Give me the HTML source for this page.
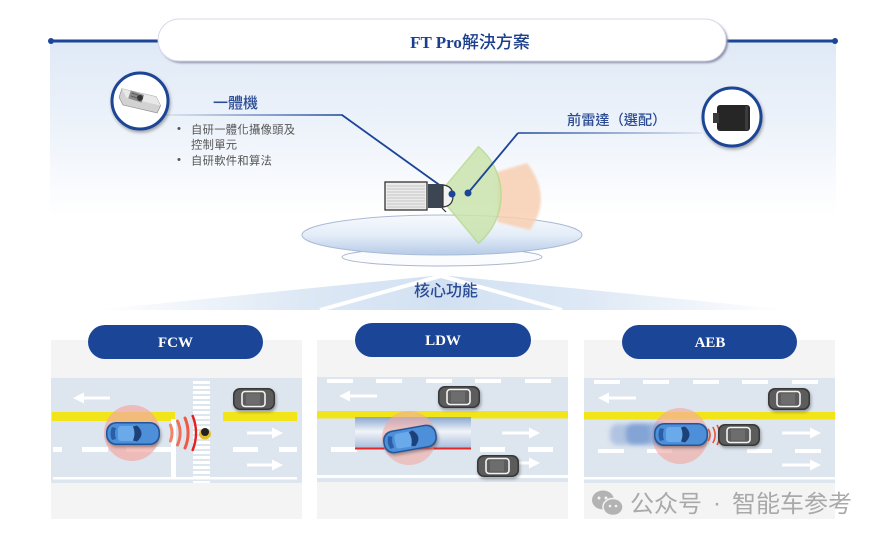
<!DOCTYPE html>
<html><head><meta charset="utf-8">
<style>
html,body{margin:0;padding:0;background:#fff;}
svg{display:block;}
</style></head><body>
<svg width="882" height="538" viewBox="0 0 882 538" xmlns="http://www.w3.org/2000/svg">
<defs>
 <linearGradient id="topbg" x1="0" y1="0" x2="0" y2="1">
  <stop offset="0" stop-color="#dfe9f6"/>
  <stop offset="0.55" stop-color="#eff4fb"/>
  <stop offset="1" stop-color="#ffffff"/>
 </linearGradient>
 <linearGradient id="plat" x1="0" y1="0" x2="0" y2="1">
  <stop offset="0" stop-color="#f7fafd"/>
  <stop offset="0.5" stop-color="#e4edf8"/>
  <stop offset="1" stop-color="#b6cbe7"/>
 </linearGradient>
 <linearGradient id="roof" x1="95" y1="0" x2="790" y2="0" gradientUnits="userSpaceOnUse">
  <stop offset="0" stop-color="#ffffff"/>
  <stop offset="0.3" stop-color="#dde8f5"/>
  <stop offset="0.5" stop-color="#d2e1f2"/>
  <stop offset="0.7" stop-color="#dde8f5"/>
  <stop offset="1" stop-color="#ffffff"/>
 </linearGradient>
 <linearGradient id="lineL" x1="165" y1="0" x2="343" y2="0" gradientUnits="userSpaceOnUse">
  <stop offset="0" stop-color="#1b4596" stop-opacity="0.1"/>
  <stop offset="1" stop-color="#1b4596"/>
 </linearGradient>
 <linearGradient id="lineR" x1="518" y1="0" x2="702" y2="0" gradientUnits="userSpaceOnUse">
  <stop offset="0" stop-color="#1b4596"/>
  <stop offset="1" stop-color="#1b4596" stop-opacity="0.1"/>
 </linearGradient>
 <linearGradient id="ghost" x1="0" y1="0" x2="0" y2="1">
  <stop offset="0" stop-color="#7f9fcc"/>
  <stop offset="0.45" stop-color="#f4f6fa"/>
  <stop offset="1" stop-color="#9fb6d8"/>
 </linearGradient>
 <filter id="blur2" x="-30%" y="-30%" width="160%" height="160%"><feGaussianBlur stdDeviation="2"/></filter>
 <filter id="blur1" x="-30%" y="-30%" width="160%" height="160%"><feGaussianBlur stdDeviation="1"/></filter>
 <filter id="sh" x="-30%" y="-30%" width="160%" height="160%"><feDropShadow dx="1" dy="2" stdDeviation="1.5" flood-color="#000" flood-opacity="0.35"/></filter>
 <g id="bc">
  <rect x="0" y="0" width="54" height="23" rx="10" fill="#24559a"/>
  <rect x="1.5" y="1.5" width="51" height="20" rx="9" fill="#4d8fd8"/>
  <rect x="12" y="4" width="17" height="15" rx="3" fill="#6aaaea"/>
  <path d="M31 3.5 Q40 11.5 31 19.5 L27 18.5 Q30 11.5 27 4.5 Z" fill="#1d3f78"/>
  <path d="M6 5 Q3 11.5 6 18 L10 17 Q8 11.5 10 6 Z" fill="#2a5ea6"/>
 </g>
 <g id="gc">
  <rect x="0" y="0" width="42" height="22" rx="7" fill="#383838"/>
  <rect x="1.5" y="1.5" width="39" height="19" rx="6" fill="#5c5c5c"/>
  <rect x="9" y="3.5" width="23" height="15" rx="3" fill="none" stroke="#f2f2f2" stroke-width="1.6"/>
  <rect x="13" y="5.5" width="14" height="11" fill="#6d6d6d"/>
 </g>
</defs>

<!-- top area -->
<rect x="50" y="41" width="786" height="175" fill="url(#topbg)"/>
<line x1="50" y1="41" x2="836" y2="41" stroke="#1b4596" stroke-width="3"/>
<circle cx="51" cy="41" r="3" fill="#1b4596"/>
<circle cx="835" cy="41" r="3" fill="#1b4596"/>
<rect x="160" y="21" width="568" height="42" rx="21" fill="#8d8fa8" filter="url(#blur1)"/>
<rect x="158" y="19" width="568" height="42" rx="21" fill="#ffffff" stroke="#d6d8ea" stroke-width="1"/>
<text x="470" y="48" text-anchor="middle" font-size="17" fill="#1b3f8c"><tspan font-family="Liberation Serif, serif" font-weight="bold">FT Pro</tspan><tspan font-family="Liberation Sans, Noto Sans CJK TC, sans-serif" font-weight="500">解決方案</tspan></text>

<!-- camera circle -->
<circle cx="140" cy="101" r="28" fill="#fff" stroke="#1b4596" stroke-width="3" filter="url(#sh)"/>
<g transform="translate(140,101) rotate(18)">
 <path d="M-21 -6 L14 -9 L21 -2 L20 6 L-15 9 L-21 3 Z" fill="#d2d2d2" stroke="#9a9a9a" stroke-width="0.8"/>
 <path d="M-21 -6 L14 -9 L21 -2 L-14 1 Z" fill="#e8e8e8"/>
 <rect x="-12" y="-7" width="14" height="8" fill="#8a8a8a"/>
 <circle cx="-1" cy="-3" r="3" fill="#333"/>
 <path d="M-10 -5 h8 M-10 -2 h8" stroke="#555" stroke-width="0.8"/>
</g>
<text x="213" y="108" font-family="Liberation Sans, Noto Sans CJK TC, sans-serif" font-size="15" fill="#2b4c95" font-weight="500">一體機</text>
<line x1="165" y1="115" x2="343" y2="115" stroke="url(#lineL)" stroke-width="1.5"/>
<polyline points="342,115 452,194" fill="none" stroke="#1b4596" stroke-width="1.8"/>
<g font-family="Liberation Sans, Noto Sans CJK TC, sans-serif" font-size="11.3" fill="#555" letter-spacing="0.3">
 <text x="177" y="132">•</text>
 <text x="191" y="133.5">自研一體化攝像頭及</text>
 <text x="191" y="148.5">控制單元</text>
 <text x="177" y="163">•</text>
 <text x="191" y="164.5">自研軟件和算法</text>
</g>

<!-- radar circle -->
<circle cx="732" cy="117" r="29" fill="#fff" stroke="#1b4596" stroke-width="3" filter="url(#sh)"/>
<rect x="717" y="105" width="33" height="26" rx="3" fill="#262626"/>
<rect x="713" y="113" width="6" height="10" fill="#3a3a3a"/>
<rect x="745" y="106" width="3" height="24" fill="#3c3c3c"/>
<text x="567" y="125" font-family="Liberation Sans, Noto Sans CJK TC, sans-serif" font-size="14.2" fill="#2b4c95" font-weight="500">前雷達（選配）</text>
<line x1="518" y1="133" x2="702" y2="133" stroke="url(#lineR)" stroke-width="1.5"/>

<!-- platform -->
<ellipse cx="442" cy="257" rx="100" ry="9" fill="#fbfcfe" stroke="#aab6cf" stroke-width="1"/>
<ellipse cx="442" cy="235" rx="140" ry="20" fill="url(#plat)" stroke="#a9bad6" stroke-width="1"/>

<!-- sectors -->
<path d="M497 172 L527 163 Q553 197 530 230 L497 222 Z" fill="#f8cfb2" opacity="0.85" filter="url(#blur1)"/>
<path d="M438 195 L478.5 146.7 A63 63 0 0 1 478.5 243.3 Z" fill="#cbe4ae" opacity="0.85" stroke="#b6da8e" stroke-width="1.5"/>

<!-- truck -->
<rect x="385" y="182" width="42" height="28" fill="#ebebeb" stroke="#333" stroke-width="1.3"/>
<g stroke="#b8b8b8" stroke-width="0.8">
 <line x1="387" y1="186" x2="425" y2="186"/><line x1="387" y1="189" x2="425" y2="189"/><line x1="387" y1="192" x2="425" y2="192"/>
 <line x1="387" y1="195" x2="425" y2="195"/><line x1="387" y1="198" x2="425" y2="198"/><line x1="387" y1="201" x2="425" y2="201"/>
 <line x1="387" y1="204" x2="425" y2="204"/><line x1="387" y1="207" x2="425" y2="207"/>
</g>
<path d="M428 184 H441 Q447 184 447 190 V202 Q447 208 441 208 H428 Z" fill="#3b4652"/>
<path d="M443 185 Q453 186 453 196 Q453 206 443 207 Z" fill="#f2f2f2" stroke="#333" stroke-width="1.2"/>
<line x1="442" y1="208" x2="446" y2="212" stroke="#333" stroke-width="1.2"/>

<polyline points="518,133 468,193" fill="none" stroke="#1b4596" stroke-width="1.8"/>
<circle cx="452" cy="194" r="3.5" fill="#1b4596"/>
<circle cx="468" cy="193" r="3.5" fill="#1b4596"/>

<!-- roof -->
<polygon points="95,310 441,275 790,310" fill="url(#roof)"/>
<polyline points="320,310 441,276 562,310" fill="none" stroke="#fff" stroke-width="4"/>
<text x="446" y="296" text-anchor="middle" font-family="Liberation Sans, Noto Sans CJK TC, sans-serif" font-size="16" fill="#2b4c95" font-weight="500">核心功能</text>

<!-- ===== Panel 1 FCW ===== -->
<rect x="51" y="340" width="251" height="179" fill="#f4f4f5"/>
<rect x="51" y="378" width="251" height="105" fill="#dde5ee"/>
<rect x="53" y="477" width="244" height="2.5" fill="#fff"/>
<rect x="52" y="412" width="123" height="9" fill="#f1e51a"/>
<rect x="223" y="412" width="74" height="9" fill="#f1e51a"/>
<rect x="171" y="419" width="5" height="59" fill="#fff"/>
<g fill="#fff">
 <rect x="193" y="381" width="17" height="3"/><rect x="193" y="386" width="17" height="3"/><rect x="193" y="391" width="17" height="3"/>
 <rect x="193" y="396" width="17" height="3"/><rect x="193" y="401" width="17" height="3"/><rect x="193" y="406" width="17" height="3"/>
 <rect x="193" y="411" width="17" height="3"/><rect x="193" y="416" width="17" height="3"/><rect x="193" y="421" width="17" height="3"/>
 <rect x="193" y="426" width="17" height="3"/><rect x="193" y="431" width="17" height="3"/><rect x="193" y="436" width="17" height="3"/>
 <rect x="193" y="441" width="17" height="3"/><rect x="193" y="446" width="17" height="3"/><rect x="193" y="451" width="17" height="3"/>
 <rect x="193" y="456" width="17" height="3"/><rect x="193" y="461" width="17" height="3"/><rect x="193" y="466" width="17" height="3"/>
 <rect x="193" y="471" width="17" height="3"/><rect x="193" y="476" width="17" height="3"/><rect x="193" y="481" width="17" height="2"/>
 <rect x="53" y="447" width="9" height="5"/><rect x="82" y="447" width="26" height="5"/><rect x="126" y="447" width="45" height="5"/>
 <rect x="233" y="447" width="25" height="5"/><rect x="279" y="447" width="18" height="5"/>
 <rect x="82" y="396.5" width="28" height="3"/><polygon points="73,398 84,392.5 84,403.5"/>
 <rect x="247" y="431.5" width="26" height="3"/><polygon points="283,433 272,427.5 272,438.5"/>
 <rect x="247" y="463.5" width="26" height="3"/><polygon points="283,465 272,459.5 272,470.5"/>
</g>
<circle cx="132" cy="433" r="28" fill="#f2aaa4" opacity="0.7"/>
<use href="#bc" x="106" y="422" filter="url(#sh)"/>
<g fill="none" stroke-linecap="round">
 <path d="M170.5 425 A22 22 0 0 1 170.5 441" stroke="#f2836a" stroke-width="3"/>
 <path d="M177.5 421 A30 30 0 0 1 177.5 445" stroke="#ef6f55" stroke-width="3"/>
 <path d="M185 418 A38 38 0 0 1 185 448" stroke="#ee5a44" stroke-width="3"/>
 <path d="M192.7 416 A46 46 0 0 1 192.7 450" stroke="#e6201c" stroke-width="2.5"/>
</g>
<ellipse cx="205" cy="434" rx="6" ry="5.5" fill="#e2bd2c"/>
<circle cx="205" cy="432" r="4" fill="#222"/>
<use href="#gc" x="233" y="388" filter="url(#sh)"/>
<rect x="88" y="325" width="175" height="34" rx="17" fill="#1b4596"/>
<text x="175.5" y="347" text-anchor="middle" font-family="Liberation Serif, serif" font-weight="bold" font-size="15" fill="#fff">FCW</text>

<!-- ===== Panel 2 LDW ===== -->
<rect x="317" y="340" width="251" height="179" fill="#f4f4f5"/>
<rect x="317" y="377" width="251" height="105" fill="#dde5ee"/>
<rect x="317" y="475" width="251" height="3" fill="#fff"/>
<rect x="317" y="411" width="251" height="7.5" fill="#f1e51a"/>
<g fill="#fff">
 <rect x="327" y="379" width="26" height="4"/><rect x="376" y="379" width="26" height="4"/><rect x="426" y="379" width="26" height="4"/>
 <rect x="475" y="379" width="26" height="4"/><rect x="525" y="379" width="26" height="4"/>
 <rect x="331" y="447" width="26" height="5"/><rect x="480" y="447" width="25" height="5"/><rect x="528" y="447" width="25" height="5"/>
 <rect x="349" y="394.5" width="28" height="3"/><polygon points="339,396 350,390.5 350,401.5"/>
 <rect x="502" y="431.5" width="27" height="3"/><polygon points="540,433 529,427.5 529,438.5"/>
 <rect x="502" y="461.5" width="27" height="3"/><polygon points="540,463 529,457.5 529,468.5"/>
</g>
<rect x="355" y="417" width="116" height="32" fill="url(#ghost)" opacity="0.9"/>
<rect x="355" y="447.5" width="116" height="2" fill="#e02a2a"/>
<circle cx="409" cy="438" r="27" fill="#f2aaa4" opacity="0.6"/>
<g transform="translate(410,439) rotate(-10) translate(-27,-11.5)"><use href="#bc" filter="url(#sh)"/></g>
<use href="#gc" x="438" y="386" filter="url(#sh)"/>
<use href="#gc" x="477" y="455" filter="url(#sh)"/>
<rect x="355" y="323" width="176" height="34" rx="17" fill="#1b4596"/>
<text x="443" y="345" text-anchor="middle" font-family="Liberation Serif, serif" font-weight="bold" font-size="15" fill="#fff">LDW</text>

<!-- ===== Panel 3 AEB ===== -->
<rect x="584" y="340" width="251" height="179" fill="#f4f4f5"/>
<rect x="584" y="378" width="251" height="105" fill="#dde5ee"/>
<rect x="584" y="477" width="251" height="2.5" fill="#fff"/>
<rect x="584" y="412" width="251" height="7.5" fill="#f1e51a"/>
<g fill="#fff">
 <rect x="594" y="380" width="26" height="4"/><rect x="643" y="380" width="26" height="4"/><rect x="693" y="380" width="26" height="4"/>
 <rect x="742" y="380" width="26" height="4"/><rect x="792" y="380" width="26" height="4"/>
 <rect x="598" y="449" width="26" height="4"/><rect x="647" y="449" width="25" height="4"/><rect x="747" y="449" width="25" height="4"/><rect x="795" y="449" width="26" height="4"/>
 <rect x="608" y="396.5" width="28" height="3"/><polygon points="598,398 609,392.5 609,403.5"/>
 <rect x="782" y="431.5" width="28" height="3"/><polygon points="821,433 810,427.5 810,438.5"/>
 <rect x="782" y="463.5" width="28" height="3"/><polygon points="821,465 810,459.5 810,470.5"/>
</g>
<circle cx="680" cy="436" r="28" fill="#f2aaa4" opacity="0.65"/>
<g filter="url(#blur2)">
 <rect x="610" y="424" width="40" height="21" rx="8" fill="#7a9cd0" opacity="0.45"/>
 <rect x="626" y="423" width="40" height="22" rx="8" fill="#5f8bcc" opacity="0.55"/>
</g>
<use href="#bc" x="654" y="423" filter="url(#sh)"/>
<g fill="none" stroke="#e8503c" stroke-width="1.6">
 <path d="M708 429 A10 10 0 0 1 708 441"/>
 <path d="M712.8 427 A15 15 0 0 1 712.8 443"/>
 <path d="M717 425 A20 20 0 0 1 717 445"/>
</g>
<use href="#gc" x="718" y="424" filter="url(#sh)"/>
<use href="#gc" x="768" y="388" filter="url(#sh)"/>
<rect x="622" y="325" width="175" height="34" rx="17" fill="#1b4596"/>
<text x="710" y="347" text-anchor="middle" font-family="Liberation Serif, serif" font-weight="bold" font-size="15" fill="#fff">AEB</text>

<!-- watermark -->
<g opacity="0.85">
 <ellipse cx="603" cy="500" rx="11" ry="9.5" fill="#a8a8a8"/>
 <ellipse cx="613" cy="507" rx="10" ry="8.5" fill="#a8a8a8" stroke="#f4f4f5" stroke-width="1.5"/>
 <circle cx="599" cy="498" r="1.5" fill="#f4f4f5"/><circle cx="606" cy="498" r="1.5" fill="#f4f4f5"/>
 <circle cx="610" cy="506" r="1.3" fill="#f4f4f5"/><circle cx="616" cy="506" r="1.3" fill="#f4f4f5"/>
 <g font-family="Liberation Sans, Noto Sans CJK SC, sans-serif" font-size="24" fill="#9c9c9c">
  <text x="630" y="512">公众号</text>
  <text x="717" y="511" text-anchor="middle">·</text>
  <text x="732" y="512">智能车参考</text>
 </g>
</g>
</svg>
</body></html>
